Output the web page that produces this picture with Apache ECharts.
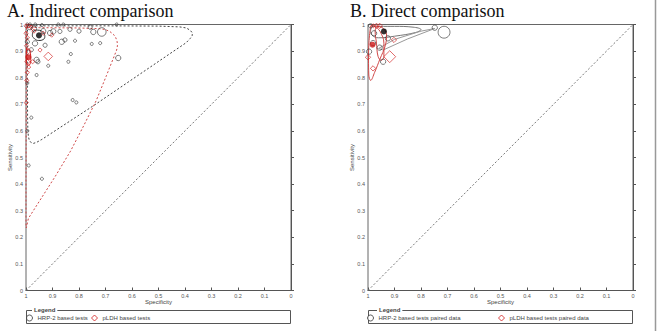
<!DOCTYPE html>
<html>
<head>
<meta charset="utf-8">
<script src="https://cdn.jsdelivr.net/npm/echarts@6/dist/echarts.min.js"></script>
<style>
  html, body { margin: 0; padding: 0; background: #fff; }
  #chart { width: 657px; height: 331px; }
</style>
</head>
<body>
<div id="chart"></div>
<script>
// ---- data: [specificity, sensitivity, study weight] ----
var hrpStudiesA = [
  [0.995, 1.0, 1], [0.985, 1.0, 1], [0.965, 1.0, 1], [0.94, 0.998, 1], [0.878, 1.0, 1], [0.859, 1.0, 1], [0.658, 1.0, 1],
  [0.985, 0.99, 3], [0.97, 0.985, 3], [0.935, 0.975, 3], [0.909, 0.968, 3], [0.897, 0.974, 3], [0.872, 0.974, 2],
  [0.865, 0.935, 3], [0.853, 0.942, 2], [0.966, 0.929, 3], [0.928, 0.922, 2], [0.96, 0.867, 3], [0.955, 0.86, 2],
  [0.746, 0.972, 3], [0.758, 0.99, 2], [0.714, 0.972, 6], [0.652, 0.874, 3], [0.834, 0.982, 2], [0.8, 0.975, 2],
  [0.815, 0.939, 1], [0.752, 0.927, 1], [0.72, 0.93, 1], [0.831, 0.889, 1], [0.84, 0.86, 1], [0.916, 0.845, 1],
  [0.96, 0.81, 1], [0.824, 0.716, 1], [0.81, 0.707, 1], [0.98, 0.65, 1], [0.99, 0.47, 1], [0.94, 0.42, 1],
  [0.995, 0.935, 2], [0.98, 0.905, 2], [0.995, 0.6, 1], [0.995, 0.78, 1]
];
var pldhStudiesA = [
  [1.0, 0.995, 2], [0.99, 0.995, 2], [0.98, 0.99, 2], [1.0, 0.967, 2], [0.995, 0.95, 2], [0.998, 0.92, 2],
  [0.99, 0.9, 3], [0.995, 0.86, 3], [0.99, 0.84, 2], [0.995, 0.82, 2], [0.997, 0.79, 2], [0.999, 0.706, 2],
  [0.935, 0.967, 2], [0.903, 0.96, 2], [0.947, 0.904, 2], [0.97, 0.975, 2], [0.975, 0.86, 2], [0.916, 0.88, 6]
];
var hrpSummaryA = [[0.951, 0.959]];
var pldhSummaryA = [[0.991, 0.877]];
var hrpConfA = [[0.975, 0.97], [0.963, 0.979], [0.948, 0.978], [0.934, 0.968], [0.929, 0.955], [0.936, 0.943],
  [0.952, 0.94], [0.968, 0.947], [0.976, 0.959], [0.975, 0.97]];
var pldhConfA = [[0.998, 0.91], [0.99, 0.905], [0.983, 0.89], [0.982, 0.865], [0.99, 0.847], [0.997, 0.852],
  [0.999, 0.875], [0.998, 0.91]];
var hrpPredA = [[0.994, 0.995], [0.9, 0.995], [0.7, 0.995], [0.5, 0.994], [0.42, 0.991], [0.395, 0.987],
  [0.38, 0.978], [0.372, 0.968], [0.373, 0.958], [0.38, 0.948], [0.395, 0.932], [0.42, 0.915], [0.444, 0.899],
  [0.742, 0.697], [0.94, 0.568], [0.96, 0.557], [0.972, 0.553], [0.982, 0.557], [0.988, 0.566],
  [0.991, 0.58], [0.993, 0.6], [0.994, 0.65], [0.995, 0.8], [0.995, 0.95], [0.994, 0.995]];
var pldhPredA = [[0.998, 0.99], [0.95, 0.988], [0.8, 0.987], [0.72, 0.984], [0.7, 0.981], [0.683, 0.973],
  [0.67, 0.963], [0.661, 0.95], [0.656, 0.935], [0.655, 0.92], [0.658, 0.904], [0.696, 0.809],
  [0.735, 0.714], [0.782, 0.62], [0.832, 0.524], [0.889, 0.43], [0.95, 0.335], [0.991, 0.271],
  [0.996, 0.248], [0.999, 0.235], [1.0, 0.25], [1.0, 0.4], [0.999, 0.7], [0.999, 0.9], [0.998, 0.99]];

var hrpStudiesB = [
  [0.977, 0.967, 3], [0.925, 0.948, 3], [0.956, 0.913, 3], [0.996, 0.898, 3], [0.943, 0.86, 3],
  [0.748, 0.988, 3], [0.713, 0.971, 9], [0.981, 0.93, 3], [0.99, 0.995, 2]
];
var pldhStudiesB = [
  [0.968, 0.995, 3], [0.956, 0.995, 3], [0.98, 0.995, 2], [0.902, 0.942, 3], [1.0, 0.877, 3],
  [0.981, 0.835, 3], [0.918, 0.879, 9]
];
var hrpSummaryB = [[0.94, 0.974]];
var pldhSummaryB = [[0.983, 0.924]];
var hrpConfB = [[0.985, 0.993], [0.9, 0.993], [0.83, 0.99], [0.8, 0.981], [0.82, 0.97], [0.9, 0.956],
  [0.96, 0.95], [0.985, 0.96], [0.99, 0.978], [0.985, 0.993]];
var hrpPredB = [[0.943, 0.904], [0.85, 0.946], [0.748, 0.985], [0.8, 0.975], [0.9, 0.944], [0.96, 0.91], [0.943, 0.904]];
var pldhConfB = [[0.97, 0.99], [0.955, 0.975], [0.94, 0.93], [0.94, 0.88], [0.95, 0.865], [0.962, 0.88],
  [0.968, 0.93], [0.973, 0.975], [0.97, 0.99]];
var pldhPredB = [[0.99, 0.995], [0.95, 0.99], [0.93, 0.96], [0.935, 0.92], [0.955, 0.87], [0.975, 0.82],
  [0.99, 0.79], [0.997, 0.81], [0.998, 0.87], [0.996, 0.94], [0.99, 0.995]];

var chanceLine = [[1, 0], [0, 1]];

// ---- styling ----
var ink = '#333';
var red = '#d01818';
var redLine = '#d04848';
var axisGray = '#555';
var font = '"Liberation Sans", Arial, sans-serif';

function xAxis(gi) {
  return {
    gridIndex: gi, type: 'value', min: 0, max: 1, interval: 0.1, inverse: true,
    name: 'Specificity', nameLocation: 'middle', nameGap: 8.5, nameMoveOverlap: false,
    nameTextStyle: { fontSize: 6, color: '#444', fontFamily: font },
    axisLine: { lineStyle: { color: axisGray } },
    axisTick: { inside: true, length: 3, lineStyle: { color: axisGray } },
    axisLabel: { fontSize: 5.5, color: '#555', margin: 2, fontFamily: font,
      formatter: function (v) { return String(+v.toFixed(1)); } },
    splitLine: { show: false }
  };
}
function yAxis(gi) {
  return {
    gridIndex: gi, type: 'value', min: 0, max: 1, interval: 0.1,
    name: 'Sensitivity', nameLocation: 'middle', nameGap: 13, nameRotate: 90, nameMoveOverlap: false,
    nameTextStyle: { fontSize: 6, color: '#444', fontFamily: font },
    axisLine: { lineStyle: { color: axisGray } },
    axisTick: { inside: true, length: 3, lineStyle: { color: axisGray } },
    axisLabel: { fontSize: 5.5, color: '#555', margin: 3, fontFamily: font,
      formatter: function (v) { return String(+v.toFixed(1)); } },
    splitLine: { show: false }
  };
}
function region(gi, data, color, type, smooth) {
  return {
    type: 'line', xAxisIndex: gi, yAxisIndex: gi, data: data, smooth: smooth || false,
    symbol: 'none', silent: true, z: 2,
    lineStyle: { color: color, width: 1, type: type }
  };
}
function studies(gi, name, data, symbol, color) {
  return {
    type: 'scatter', name: name, xAxisIndex: gi, yAxisIndex: gi, data: data, symbol: symbol,
    symbolSize: function (d) { return 2 + d[2] * 1.1; }, silent: true, z: 3,
    itemStyle: { color: 'rgba(255,255,255,0)', borderColor: color, borderWidth: 0.8 }
  };
}
function summary(gi, data, color) {
  return {
    type: 'scatter', xAxisIndex: gi, yAxisIndex: gi, data: data, symbol: 'circle',
    symbolSize: 6, silent: true, z: 5, itemStyle: { color: color }
  };
}
function legendItem(left, name, icon, color) {
  return {
    left: left, top: 314.5, padding: 0, itemWidth: 6, itemHeight: 6, selectedMode: false,
    textStyle: { fontSize: 6, color: '#444', fontFamily: font },
    data: [{ name: name, icon: icon, itemStyle: { color: '#fff', borderColor: color, borderWidth: 1 } }]
  };
}

var serif = '"Liberation Serif", "Times New Roman", serif';
var chart = echarts.init(document.getElementById('chart'), null, { renderer: 'svg' });
chart.setOption({
  animation: false,
  title: [
    { text: 'A. Indirect comparison', left: 2, top: -3,
      textStyle: { fontFamily: serif, fontSize: 18, fontWeight: 'normal', color: '#111' } },
    { text: 'B. Direct comparison', left: 345, top: -3,
      textStyle: { fontFamily: serif, fontSize: 18, fontWeight: 'normal', color: '#111' } }
  ],
  grid: [
    { left: 26, top: 24.5, width: 265, height: 266, show: true, borderColor: '#666', borderWidth: 1 },
    { left: 368, top: 24.5, width: 265, height: 266, show: true, borderColor: '#666', borderWidth: 1 }
  ],
  xAxis: [xAxis(0), xAxis(1)],
  yAxis: [yAxis(0), yAxis(1)],
  legend: [
    legendItem(26, 'HRP-2 based tests', 'circle', ink),
    legendItem(91, 'pLDH based tests', 'diamond', red),
    legendItem(367, 'HRP-2 based tests paired data', 'circle', ink),
    legendItem(498, 'pLDH based tests paired data', 'diamond', red)
  ],
  series: [
    region(0, chanceLine, '#777', [2, 2]),
    region(0, hrpPredA, '#444', [2, 2]),
    region(0, pldhPredA, redLine, [2, 2]),
    region(0, hrpConfA, ink, 'solid', 0.5),
    region(0, pldhConfA, red, 'solid', 0.5),
    studies(0, 'HRP-2 based tests', hrpStudiesA, 'circle', ink),
    studies(0, 'pLDH based tests', pldhStudiesA, 'diamond', red),
    summary(0, hrpSummaryA, '#000'),
    summary(0, pldhSummaryA, red),

    region(1, chanceLine, '#777', [2, 2]),
    region(1, hrpConfB, '#777', 'solid', 0.4),
    region(1, hrpPredB, '#999', 'solid'),
    region(1, pldhConfB, redLine, 'solid', 0.4),
    region(1, pldhPredB, redLine, 'solid', 0.4),
    studies(1, 'HRP-2 based tests paired data', hrpStudiesB, 'circle', ink),
    studies(1, 'pLDH based tests paired data', pldhStudiesB, 'diamond', red),
    summary(1, hrpSummaryB, '#000'),
    summary(1, pldhSummaryB, red)
  ],
  graphic: [
    { type: 'rect', shape: { x: 26.5, y: 310.5, width: 264, height: 13 }, style: { fill: 'none', stroke: '#555', lineWidth: 1 } },
    { type: 'rect', shape: { x: 368.5, y: 310.5, width: 264, height: 13 }, style: { fill: 'none', stroke: '#555', lineWidth: 1 } },
    { type: 'text', x: 32, y: 307, z: 10, style: { text: 'Legend', font: 'bold 6px ' + font, fill: '#444', backgroundColor: '#fff', padding: [0, 2] } },
    { type: 'text', x: 377, y: 307, z: 10, style: { text: 'Legend', font: 'bold 6px ' + font, fill: '#444', backgroundColor: '#fff', padding: [0, 2] } },
    { type: 'line', shape: { x1: 655.5, y1: 0, x2: 655.5, y2: 331 }, style: { stroke: '#999', lineWidth: 1.5 } }
  ]
});
</script>
</body>
</html>
